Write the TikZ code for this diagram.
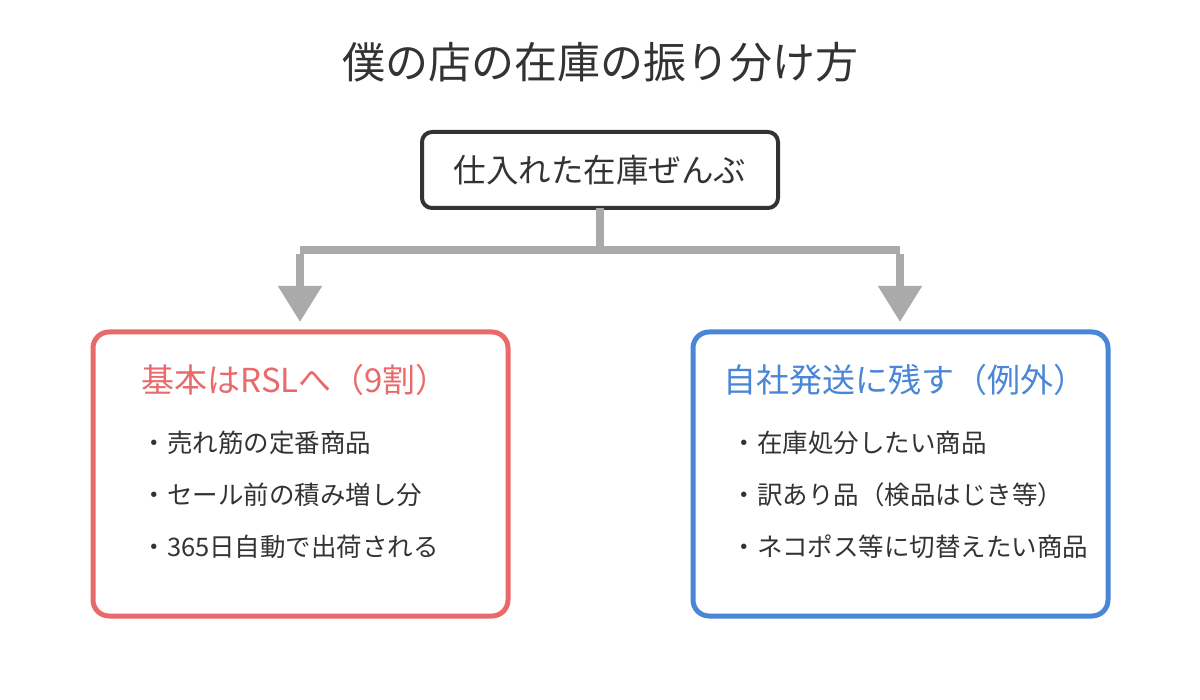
\documentclass[tikz,border=0pt]{standalone}
\usepackage{fontspec}
\setmainfont{Noto Sans CJK JP}
\usetikzlibrary{arrows.meta}
\definecolor{dk}{HTML}{333333}
\definecolor{rd}{HTML}{E86A6A}
\definecolor{bl}{HTML}{4A86D8}
\definecolor{gr}{HTML}{AAAAAA}
\begin{document}
\begin{tikzpicture}[x=1pt,y=-1pt,
  box/.style={draw,rounded corners=16pt,line width=5pt},
  ttl/.style={anchor=west,font=\fontsize{33}{35}\selectfont},
  itm/.style={anchor=west,text=dk,font=\fontsize{25.5}{28}\selectfont},
  conn/.style={draw=gr,line width=8pt},
  tip/.style={-{Triangle[length=36pt,width=42pt]}}]
\useasboundingbox (0,0) rectangle (1200,700);
\node[text=dk,font=\fontsize{43}{46}\selectfont] (title) at (600,62) {僕の店の在庫の振り分け方};
\draw[box,draw=dk,line width=4pt,rounded corners=10pt] (422,132) rectangle (778,208);
\node[text=dk,font=\fontsize{32.5}{35}\selectfont] (top) at (600,170) {仕入れた在庫ぜんぶ};
\coordinate (tb) at (600,208);
\coordinate (j) at (600,250);
\coordinate (l) at (300,250);
\coordinate (r) at (900,250);
\coordinate (la) at (300,322);
\coordinate (ra) at (900,322);
\draw[conn] (tb) -- (j);
\draw[conn] (l) -- (r);
\draw[conn,tip,draw=gr,fill=gr] ([yshift=-4pt]l) -- (la);
\draw[conn,tip,draw=gr,fill=gr] ([yshift=-4pt]r) -- (ra);
\draw[box,draw=rd] (93,332) rectangle (508,616);
\draw[box,draw=bl] (693,332) rectangle (1108,616);
\node[ttl,text=rd] (lt) at (138,380) {基本はRSLへ（9割）};
\node[itm] (l1) at (138,443) {・売れ筋の定番商品};
\node[itm] (l2) at (138,495) {・セール前の積み増し分};
\node[itm] (l3) at (138,547) {・365日自動で出荷される};
\node[ttl,text=bl] (rt) at (720,380) {自社発送に残す（例外）};
\node[itm] (r1) at (728,443) {・在庫処分したい商品};
\node[itm] (r2) at (728,495) {・訳あり品（検品はじき等）};
\node[itm] (r3) at (728,547) {・ネコポス等に切替えたい商品};
\end{tikzpicture}
\end{document}
